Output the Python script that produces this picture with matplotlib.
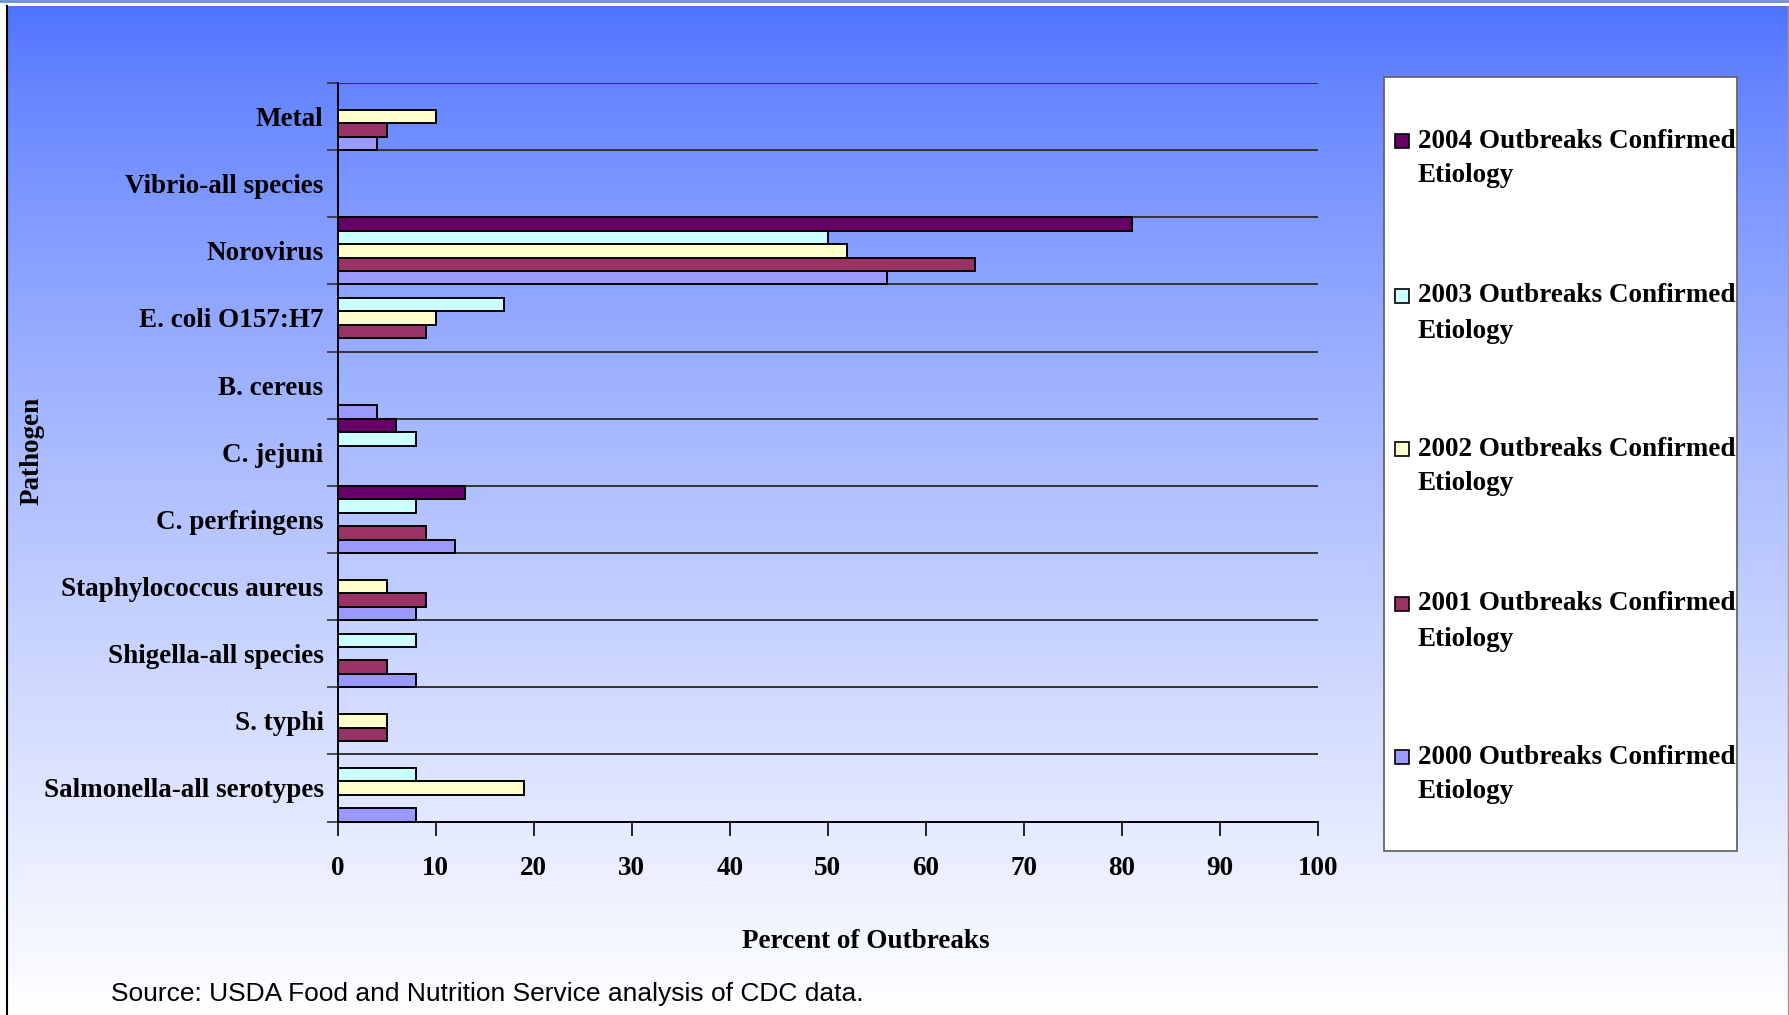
import numpy as np
import matplotlib
matplotlib.use("Agg")
import matplotlib.pyplot as plt
from matplotlib.patches import Rectangle
from matplotlib.lines import Line2D

# categories, bottom to top
pathogens = ["Salmonella-all serotypes", "S. typhi", "Shigella-all species",
             "Staphylococcus aureus", "C. perfringens", "C. jejuni", "B. cereus",
             "E. coli O157:H7", "Norovirus", "Vibrio-all species", "Metal"]

years = ["2000", "2001", "2002", "2003", "2004"]
pct_2000 = [8, 0, 8, 8, 12, 0, 4, 0, 56, 0, 4]
pct_2001 = [0, 5, 5, 9, 9, 0, 0, 9, 65, 0, 5]
pct_2002 = [19, 5, 0, 5, 0, 0, 0, 10, 52, 0, 10]
pct_2003 = [8, 0, 8, 0, 8, 8, 0, 17, 50, 0, 0]
pct_2004 = [0, 0, 0, 0, 13, 6, 0, 0, 81, 0, 0]
series = [pct_2000, pct_2001, pct_2002, pct_2003, pct_2004]
colors = ["#9999FF", "#993366", "#FFFFCC", "#CCFFFF", "#660066"]

W, H = 1789, 1015
SERIF = "Liberation Serif"

fig = plt.figure(figsize=(W / 100, H / 100), dpi=100)
fig.patch.set_facecolor("white")


def fx(px):
    return px / W


def fy(py):
    return 1 - py / H


# blue -> white background
bg = fig.add_axes([fx(7), 0, 1 - fx(7), fy(6)], zorder=-5)
t = np.linspace(0, 1, 512) ** 0.8
top = np.array([78, 114, 255]) / 255
grad = top[None, :] + (1 - top[None, :]) * t[:, None]
bg.imshow(grad[:, None, :], aspect="auto", extent=[0, 1, 0, 1], origin="upper")
bg.set_axis_off()

fig.add_artist(Line2D([0, 1], [fy(1), fy(1)], color="#6a8fd0", lw=2))
fig.add_artist(Line2D([fx(6.5), fx(6.5)], [0, fy(6)], color="black", lw=1.5))
fig.add_artist(Line2D([fx(1788), fx(1788)], [0, fy(6)], color="#999999", lw=1))

left, right, top_px, bot_px = 337.5, 1318, 83, 821.5
ax = fig.add_axes([fx(left), fy(bot_px), fx(right - left), fy(top_px) - fy(bot_px)])
ax.set_facecolor("none")

y = np.arange(len(pathogens))
h = 0.2
for i, (vals, c) in enumerate(zip(series, colors)):
    vals = np.array(vals)
    keep = vals > 0
    ax.barh(y[keep] - 0.4 + i * h, vals[keep], height=h, align="center",
            color=c, edgecolor="black", linewidth=1.4, zorder=3)

ax.set_xlim(0, 100)
ax.set_ylim(-0.5, len(pathogens) - 0.5)

bounds = np.arange(len(pathogens) + 1) - 0.5
for b in bounds[1:]:
    ax.axhline(b, color="#333333", lw=1.4, zorder=1)

ax.set_yticks(y)
ax.set_yticklabels(pathogens, fontfamily=SERIF, fontweight="bold", fontsize=19.5)
ax.set_yticks(bounds, minor=True)
ax.tick_params(axis="y", which="major", length=0, pad=10)
ax.tick_params(axis="y", which="minor", length=8, width=1.2, direction="out", color="#333333")

ax.set_xticks(np.arange(0, 101, 10))
ax.set_xticklabels([str(v) for v in range(0, 101, 10)], fontfamily=SERIF,
                   fontweight="bold", fontsize=19.5)
ax.tick_params(axis="x", length=10, width=1.2, direction="out", pad=15)

for s in ["top", "right"]:
    ax.spines[s].set_visible(False)
ax.spines["left"].set_linewidth(1.4)
ax.spines["bottom"].set_linewidth(1.4)

fig.text(fx(866), fy(942), "Percent of Outbreaks", ha="center", va="center",
         fontfamily=SERIF, fontweight="bold", fontsize=19.5)
fig.text(fx(32), fy(451), "Pathogen", ha="center", va="center", rotation=90,
         fontfamily=SERIF, fontweight="bold", fontsize=19.5)
fig.text(fx(111), fy(994), "Source: USDA Food and Nutrition Service analysis of CDC data.",
         ha="left", va="center", fontfamily="Liberation Sans", fontsize=19)

# legend box
lx0, lx1, ly0, ly1 = 1384, 1737, 76.5, 851
box = Rectangle((fx(lx0), fy(ly1)), fx(lx1 - lx0), fy(ly0) - fy(ly1),
                transform=fig.transFigure, facecolor="white", edgecolor="#666666",
                lw=1.3, zorder=5)
fig.add_artist(box)
entry_y = [141, 296, 449, 604, 757]
for k, i in enumerate(range(len(years) - 1, -1, -1)):
    yy = entry_y[k]
    fig.add_artist(Rectangle((fx(1395), fy(yy + 7)), fx(14), fy(yy - 7) - fy(yy + 7),
                             transform=fig.transFigure, facecolor=colors[i],
                             edgecolor="black", lw=1.2, zorder=6))
    txt = fig.text(fx(1418), fy(yy), years[i] + " Outbreaks Confirmed", ha="left",
                   va="center", fontfamily=SERIF, fontweight="bold", fontsize=19.5, zorder=6)
    txt.set_clip_path(box)
    fig.text(fx(1418), fy(yy + 35), "Etiology", ha="left", va="center",
             fontfamily=SERIF, fontweight="bold", fontsize=19.5, zorder=6)

fig.savefig("out.png", dpi=100)
